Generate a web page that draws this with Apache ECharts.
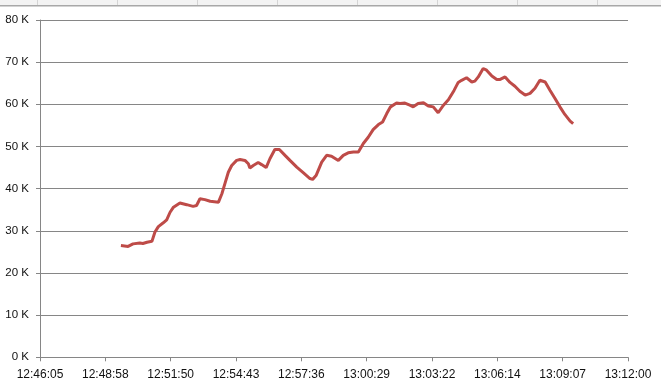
<!DOCTYPE html>
<html>
<head>
<meta charset="utf-8">
<script src="https://cdn.jsdelivr.net/npm/echarts@6/dist/echarts.min.js"></script>
<style>
html,body{margin:0;padding:0;background:#fff;}
#c{width:661px;height:387px;}
</style>
</head>
<body>
<div id="c"></div>
<script>
// Tick labels of the time axis (start 12:46:05, end 13:12:00)
const xTickLabels = ["12:46:05","12:48:58","12:51:50","12:54:43","12:57:36","13:00:29","13:03:22","13:06:14","13:09:07","13:12:00"];
const axisSpanSec = 1555; // 12:46:05 -> 13:12:00
// Elapsed seconds since 12:46:05 for each sample
const elapsedSec = [214,233,246,264,272,283,296,304,313,326,335,344,353,370,388,405,414,423,436,450,472,481,489,498,507,520,529,542,551,555,564,577,586,598,608,621,633,648,661,679,696,714,721,730,745,758,771,789,802,815,829,842,855,868,881,895,906,917,927,943,952,965,978,987,1000,1014,1027,1040,1053,1067,1080,1095,1106,1115,1128,1142,1150,1159,1172,1181,1195,1208,1217,1230,1243,1256,1269,1283,1296,1309,1322,1336,1349,1362,1375,1388,1402,1410];
// Values in thousands
const valuesK = [26.5,26.3,26.9,27.1,27.0,27.3,27.5,29.7,31.0,31.9,32.6,34.4,35.6,36.6,36.2,35.8,36.0,37.6,37.4,37.0,36.8,38.8,41.2,43.9,45.5,46.7,46.9,46.7,45.9,44.9,45.5,46.2,45.7,45.0,47.1,49.3,49.3,47.9,46.7,45.1,43.8,42.4,42.2,43.1,46.3,47.9,47.7,46.7,47.9,48.5,48.7,48.7,50.7,52.2,54.0,55.2,55.8,57.8,59.4,60.3,60.2,60.3,59.8,59.4,60.2,60.4,59.6,59.4,58.0,59.8,61.1,63.3,65.2,65.7,66.3,65.3,65.5,66.5,68.5,68.1,66.7,65.9,65.9,66.5,65.2,64.3,63.1,62.2,62.6,63.8,65.7,65.3,63.3,61.4,59.4,57.6,56.0,55.4];
const yTickLabels = ["0 K","10 K","20 K","30 K","40 K","50 K","60 K","70 K","80 K"];

const nTicks = xTickLabels.length - 1;
const tickStep = axisSpanSec / nTicks;
const seriesData = elapsedSec.map((s, i) => [s / tickStep, valuesK[i] * 1000]);

// decorative window header strip
const headerGraphics = [
  {type: 'rect', shape: {x: 0, y: 0, width: 661, height: 5}, style: {fill: '#f3f3f3'}, silent: true},
  {type: 'rect', shape: {x: 0, y: 5, width: 661, height: 1.5}, style: {fill: '#a8a8a8'}, silent: true}
];
[37, 117, 197, 277, 357, 437, 517, 597].forEach(x => headerGraphics.push(
  {type: 'rect', shape: {x: x, y: 0, width: 1, height: 5}, style: {fill: '#d4d4d4'}, silent: true}
));

const chart = echarts.init(document.getElementById('c'), null, {renderer: 'canvas'});
const fontFam = '"Liberation Sans", Arial, sans-serif';
chart.setOption({
  animation: false,
  backgroundColor: '#ffffff',
  graphic: headerGraphics,
  grid: {left: 40, right: 33, top: 20, bottom: 29.7, containLabel: false},
  xAxis: {
    type: 'value', min: 0, max: nTicks, interval: 1,
    axisLine: {show: true, lineStyle: {color: '#868686', width: 1}},
    axisTick: {show: true, length: 4, lineStyle: {color: '#868686'}},
    splitLine: {show: false},
    axisLabel: {
      color: '#111', fontFamily: fontFam, fontSize: 12, margin: 11,
      formatter: v => xTickLabels[Math.round(v)] || ''
    }
  },
  yAxis: {
    type: 'value', min: 0, max: 80000, interval: 10000,
    axisLine: {show: true, lineStyle: {color: '#868686', width: 1}},
    axisTick: {show: true, length: 4, lineStyle: {color: '#868686'}},
    splitLine: {show: true, lineStyle: {color: '#868686', width: 1}},
    axisLabel: {
      color: '#111', fontFamily: fontFam, fontSize: 11.5, margin: 11,
      formatter: v => yTickLabels[Math.round(v / 10000)] || ''
    }
  },
  series: [{
    type: 'line',
    data: seriesData,
    showSymbol: false,
    smooth: false,
    lineStyle: {color: '#BE4B48', width: 3},
    itemStyle: {color: '#BE4B48'}
  }]
});
</script>
</body>
</html>
